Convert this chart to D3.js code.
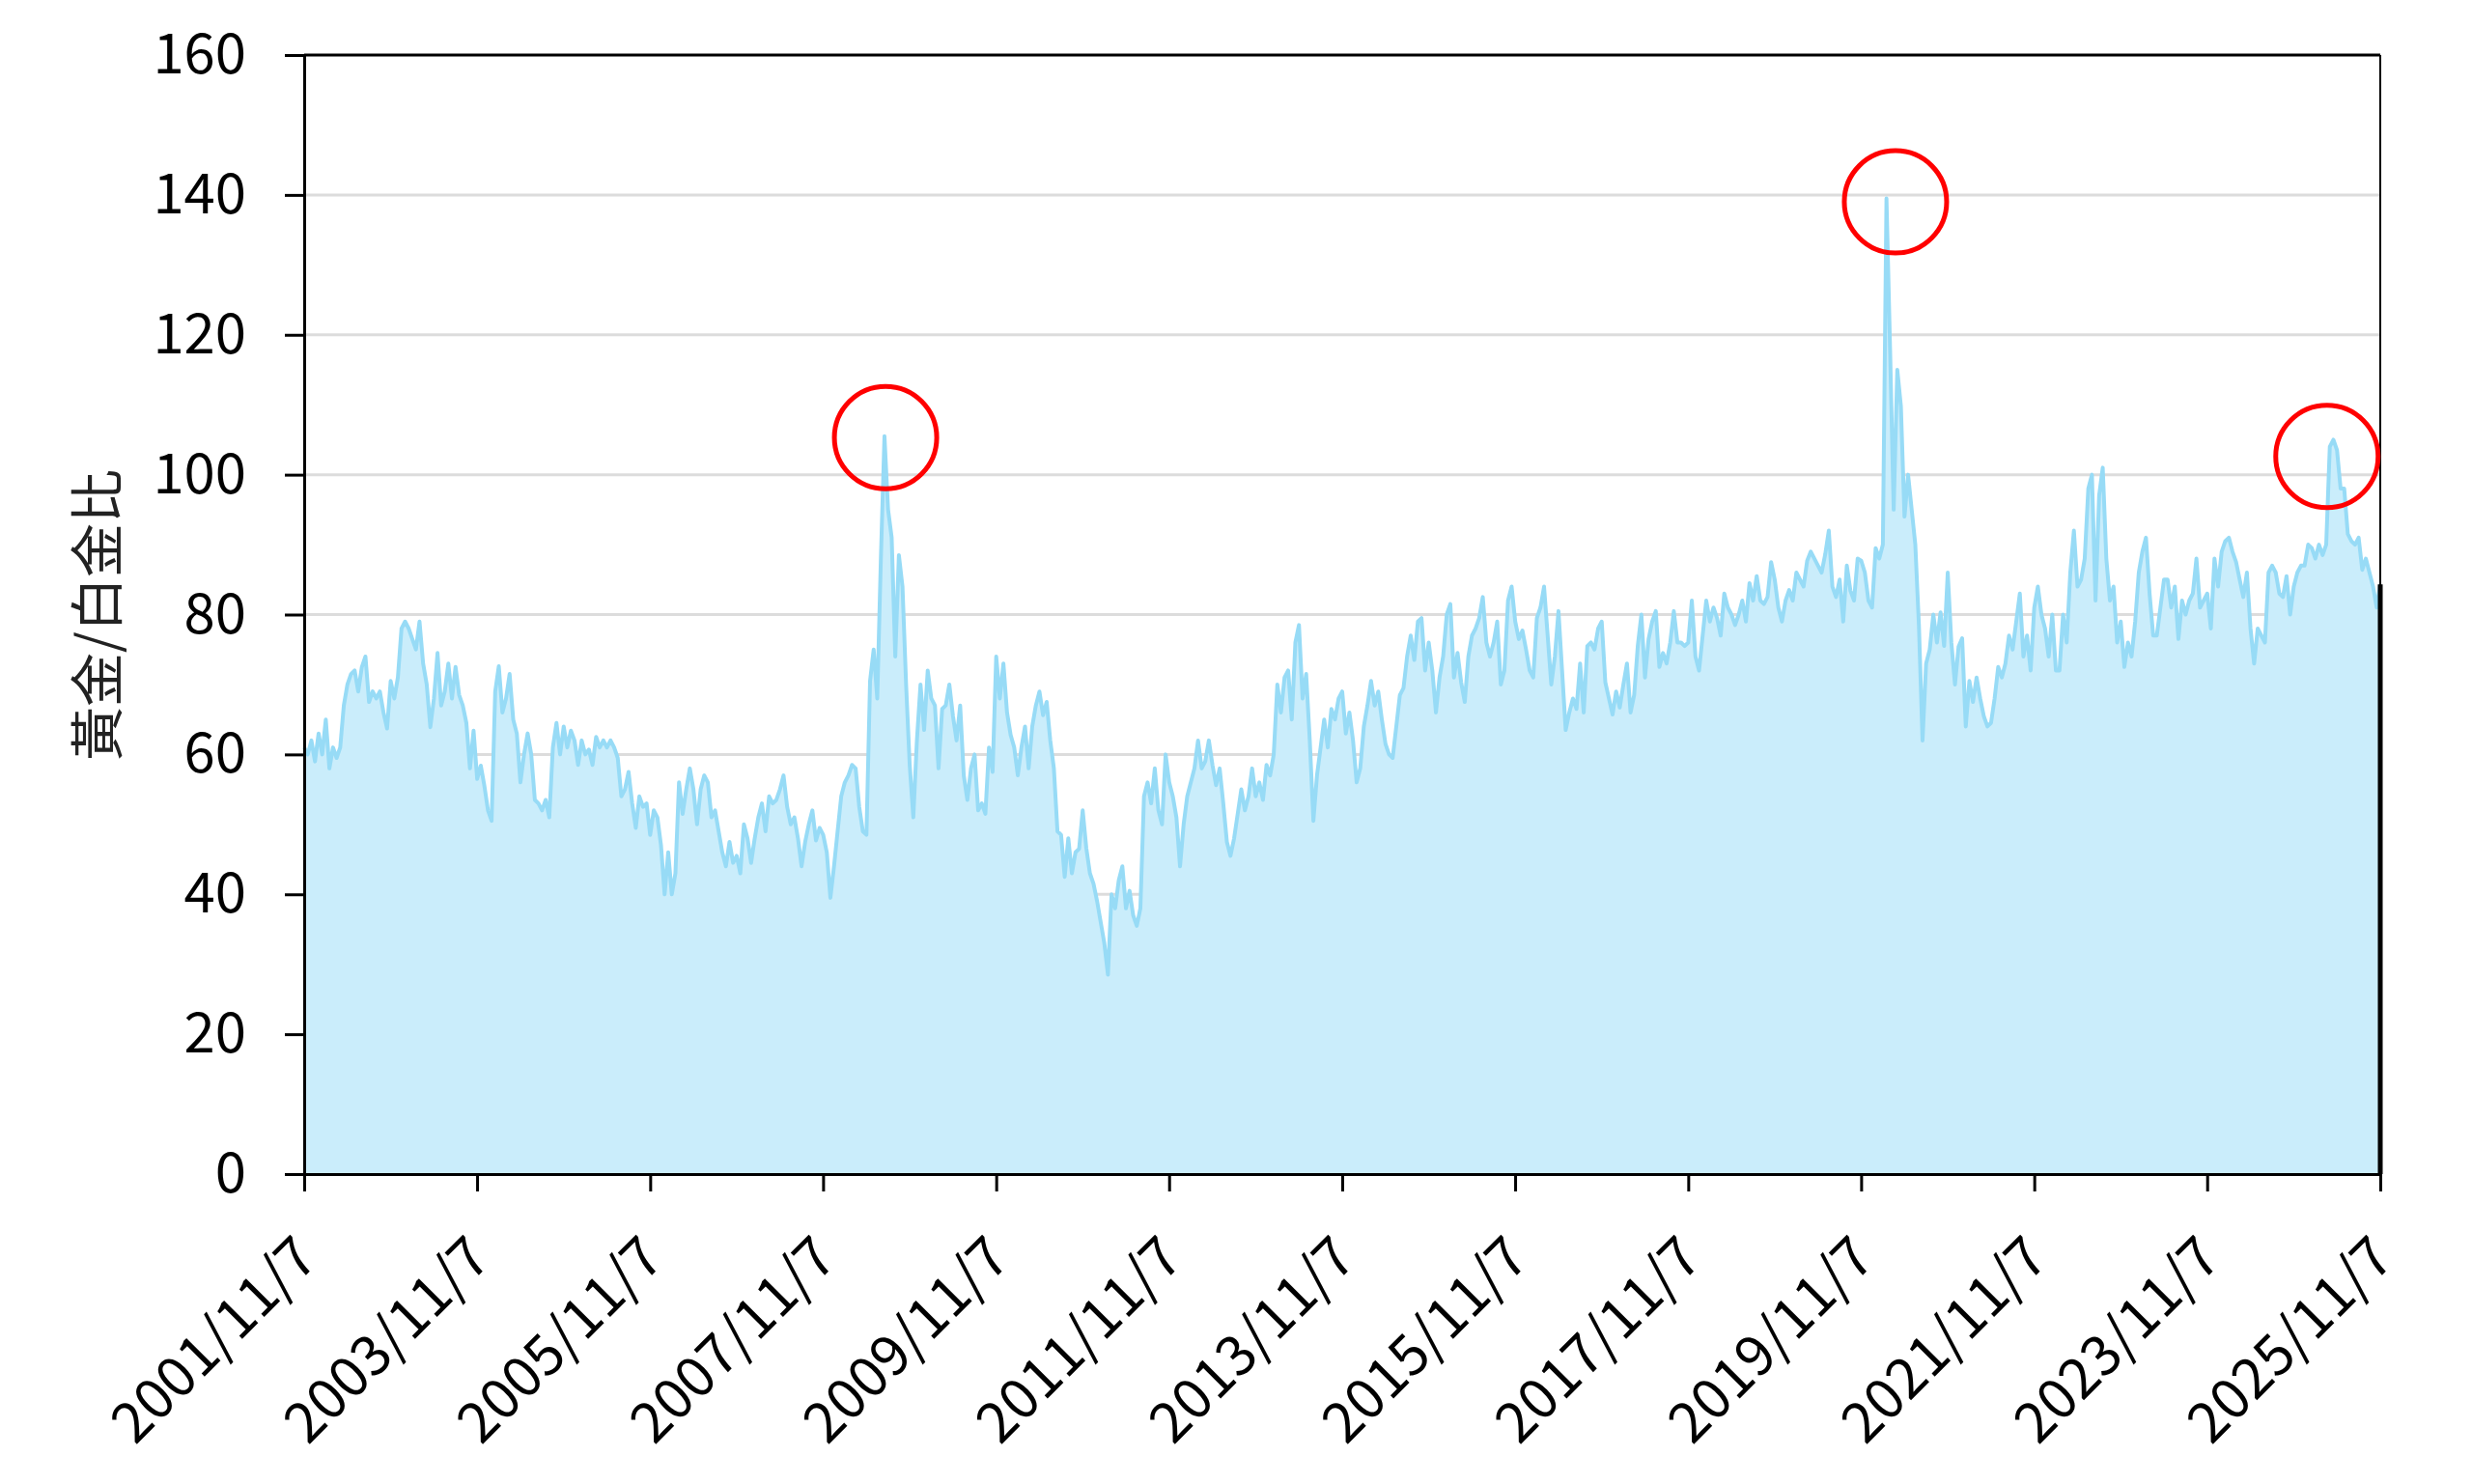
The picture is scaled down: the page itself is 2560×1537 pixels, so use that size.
<!DOCTYPE html>
<html>
<head>
<meta charset="utf-8">
<script src="https://cdn.jsdelivr.net/npm/d3@7"></script>
<style>
body{margin:0;background:#fff;}
text{font-family:"Noto Sans CJK TC","Noto Sans",sans-serif;}
</style>
</head>
<body>
<script>
// gold / platinum ratio, one value every half month from 2001/11/7 to 2025/11/7
var startDate = new Date(2001,10,7);
var endDate = new Date(2025,10,7);
var ratio = [
 61,60,62,59,63,60,65,58,61,59.5,61,67,70,71.5,72,69,72.5,74,67.5,69,68,69,66,63.7,
 70.5,68,71,78,79,78,76.5,75,79,73,70,63.9,68,74.5,67,69,73,68,72.5,68.5,67,64.5,58,63.4,
 56.5,58.4,55.5,52,50.5,69,72.6,66,68,71.5,65,63,56,60,63,60,53.5,53,52,53.5,51,61,64.5,60,
 64,61,63.4,62,58.5,62,60,60.7,58.5,62.5,61,62,61,62,61,59.5,54,55,57.5,53,49.5,54,52.5,53,
 48.5,52,51,47,40,46,40,43,56,51.5,55,58,55,50,55,57,56,51,52,49,46,44,47.5,44.5,
 45.5,43,50,48,44.5,48,51,53,49,54,53,53.5,55,57,52.5,50,51,48,44,47.5,50,52,47.7,49.5,
 48.5,46,39.5,44,49,54,56,57,58.5,58,52.5,49,48.5,70.5,75,68,88,105.5,95,91,74,88.5,84,70,
 58.5,51,62,70,63.5,72,68,67,58,66.5,67,70,65.5,62,67,57,53.5,58,60,52,53,51.5,61,57.5,
 74,68,73,66,62.8,61,57,61,64,58,64,67,69,65.6,67.5,62,58,49,48.5,42.5,48,43,46,46.5,
 52,46.6,43,41.5,39,36,33,28.5,40,38,42,44,38,40.5,37,35.5,38,54,56,53,58,52,50,60,
 56,54,51,44,50,54,56,58,62,58,59,62,58.5,55.6,58,53,47.5,45.5,48,51.5,55,52,54,58,
 54,56,53.5,58.5,57,60,70,66,71,72,65,76,78.5,68,71.5,62,50.5,57,61,65,61,66.5,65,68,
 69,63,66,62,56,58,64,67,70.5,67,69,65,61.5,60,59.5,64,68.5,69.5,74,77,73.5,79,79.5,72,
 76,72,66,71,74,80,81.5,71,74.5,70.3,67.5,74,77,78,79.5,82.5,76,74,76,79,70,72,82,84,
 79,76.5,77.7,75,72,71,79.5,81,84,77,70,74,80.5,72,63.5,66,68,66.5,73,66,75.5,76,75,78,
 79,70.3,68,65.7,69,66.7,70,73,66,68.5,75.5,80,71,76.5,79,80.5,72.5,74.5,73,76,80.5,76,76,75.5,
 76,82,74,72,77,82,79,81,79.5,77,83,81,80,78.5,80,82,79,84.5,82,85.5,82,81.5,82.5,87.5,
 85,81,79,82,83.5,82,86,85,84,87.7,89,88,87,86,88.6,92,84,82.5,85,79,87,83.4,82,88,
 87.7,86,82,81,89.5,88,90,139.5,118,95,115,109.8,94,100,95,90,78.5,62,73,75,80,76,80.3,75.5,
 86,76,70,75.4,76.6,64,70.5,67.5,71,68,65.5,64,64.5,68,72.5,71,73,77,75,79,83,74,77,72,
 81,84,80,78,74,80,72,72,80,76,86,92,84,85,88,98,100,82,97,101,88,82,84,76,
 79,72.5,76,74,79,86,89,91,83,77,77,81,85,85,81,84,76.5,82,80,82,83,88,81,82,
 83,78,88,84,89,90.5,91,89,87.5,85,82.5,86,78,73,78,77,76,86,87,86,83,82.5,85.5,80,
 84,86,87,87,90,89.5,88,90,88.5,90,104,105,103.5,98,98,91.5,90.5,90,91,86.4,88,86,84,81,84.3
];
var yTicks = [0,20,40,60,80,100,120,140,160];
var tickYears = [2001,2003,2005,2007,2009,2011,2013,2015,2017,2019,2021,2023,2025];
var yTitle = "黃金/白金比";
// circled peaks: position in the series (half-month index) and ratio
var markIdx = [161.3, 441.5, 561.2];
var markVal = [105.3, 139, 102.6];

var width = 2560, height = 1537;
var plotLeft = 315, plotRight = 2465, plotTop = 57, plotBottom = 1216;

var svg = d3.select("body").append("svg")
    .attr("width", width)
    .attr("height", height);

var x = d3.scaleTime().domain([startDate, endDate]).range([plotLeft, plotRight]);
var y = d3.scaleLinear().domain([0, 160]).range([plotBottom, plotTop]);

var step = (endDate - startDate) / (ratio.length - 1);
var data = ratio.map(function(v, i){ return {date: new Date(+startDate + i * step), v: v}; });

// grid
svg.append("g").selectAll("line")
    .data(yTicks.filter(function(d){ return d > 0 && d < 160; }))
    .enter().append("line")
    .attr("x1", plotLeft).attr("x2", plotRight)
    .attr("y1", function(d){ return y(d); })
    .attr("y2", function(d){ return y(d); })
    .attr("stroke", "#dcdcdc")
    .attr("stroke-width", 3);

var area = d3.area()
    .x(function(d){ return x(d.date); })
    .y0(y(0))
    .y1(function(d){ return y(d.v); });
var line = d3.line()
    .x(function(d){ return x(d.date); })
    .y(function(d){ return y(d.v); });

svg.append("path").datum(data)
    .attr("d", area)
    .attr("fill", "#caedfb");
svg.append("path").datum(data)
    .attr("d", line)
    .attr("fill", "none")
    .attr("stroke", "#97dbf6")
    .attr("stroke-width", 4)
    .attr("stroke-linejoin", "round");

// frame top / right
svg.append("line").attr("x1", plotLeft).attr("x2", plotRight).attr("y1", plotTop).attr("y2", plotTop)
    .attr("stroke", "#000").attr("stroke-width", 3);
svg.append("line").attr("x1", plotRight).attr("x2", plotRight).attr("y1", plotTop).attr("y2", plotBottom)
    .attr("stroke", "#000").attr("stroke-width", 2);
var last = data[data.length - 1];
svg.append("line").attr("x1", x(last.date)).attr("x2", x(last.date))
    .attr("y1", y(last.v)).attr("y2", plotBottom)
    .attr("stroke", "#000").attr("stroke-width", 5);

// y axis
var yAxis = svg.append("g")
    .attr("transform", "translate(" + plotLeft + ",0)")
    .call(d3.axisLeft(y).tickValues(yTicks).tickSize(20).tickSizeOuter(0).tickPadding(40));
yAxis.select(".domain").attr("stroke-width", 3);
yAxis.selectAll(".tick line").attr("stroke-width", 3);
yAxis.selectAll("text").attr("font-size", 58).attr("fill", "#000")
    .style("font-family", "'Noto Sans CJK TC', sans-serif");

// x axis
var tickDates = tickYears.map(function(yr){ return new Date(yr, 10, 7); });
var xAxis = svg.append("g")
    .attr("transform", "translate(0," + plotBottom + ")")
    .call(d3.axisBottom(x).tickValues(tickDates).tickSize(18).tickSizeOuter(0)
      .tickFormat(function(d){ return d.getFullYear() + "/" + (d.getMonth() + 1) + "/" + d.getDate(); }));
xAxis.select(".domain").attr("stroke-width", 3);
xAxis.selectAll(".tick line").attr("stroke-width", 3);
xAxis.selectAll("text")
    .attr("y", null).attr("dy", null)
    .attr("text-anchor", "end")
    .attr("transform", "translate(16,90) rotate(-45)")
    .attr("font-size", 58).attr("fill", "#000")
    .style("font-family", "'Noto Sans CJK TC', sans-serif");

// y title
svg.append("text")
    .attr("transform", "translate(96,637) rotate(-90)")
    .attr("text-anchor", "middle")
    .attr("dominant-baseline", "central")
    .attr("font-size", 56)
    .attr("fill", "#222")
    .text(yTitle);

// red circles around peaks
svg.append("g").selectAll("circle")
    .data(markIdx.map(function(idx, k){ return {date: new Date(+startDate + idx * step), v: markVal[k]}; }))
    .enter().append("circle")
    .attr("cx", function(d){ return x(d.date); })
    .attr("cy", function(d){ return y(d.v); })
    .attr("r", 53)
    .attr("fill", "none")
    .attr("stroke", "#ff0000")
    .attr("stroke-width", 5);
</script>
</body>
</html>
